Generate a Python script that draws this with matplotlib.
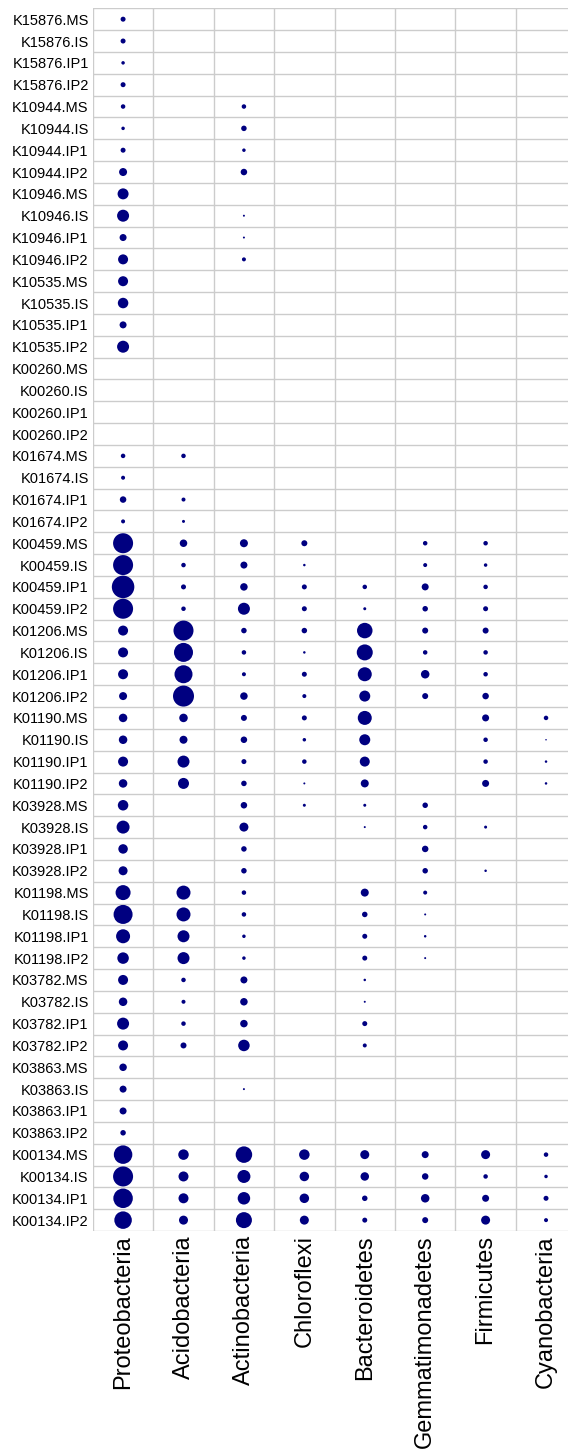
import numpy as np
import matplotlib
matplotlib.use('Agg')
import matplotlib.pyplot as plt

plt.rcParams['font.family'] = ['Liberation Sans', 'DejaVu Sans']

# KO groups and samples (rows, top to bottom)
kos = ['K15876', 'K10944', 'K10946', 'K10535', 'K00260', 'K01674', 'K00459',
       'K01206', 'K01190', 'K03928', 'K01198', 'K03782', 'K03863', 'K00134']
samples = ['MS', 'IS', 'IP1', 'IP2']

phyla = ['Proteobacteria', 'Acidobacteria', 'Actinobacteria', 'Chloroflexi',
         'Bacteroidetes', 'Gemmatimonadetes', 'Firmicutes', 'Cyanobacteria']

# dot sizes (relative, ~diameter), 0 = no dot
proteobacteria = [5, 5, 3.5, 5, 4.5, 3.5, 5, 8, 11, 12, 7, 10, 10, 10.5, 7, 12,
                  0, 0, 0, 0, 4.5, 4, 6.5, 4, 20, 20, 22.5, 20, 10, 10, 10, 8,
                  8.5, 8.5, 10, 8.5, 10.5, 13, 9.5, 9, 15, 19, 14, 11.5,
                  10, 8.5, 12, 10, 7.5, 7, 7, 5.5, 18.5, 20, 19.5, 17.5]
acidobacteria = [0, 0, 0, 0, 0, 0, 0, 0, 0, 0, 0, 0, 0, 0, 0, 0,
                 0, 0, 0, 0, 4.5, 0, 4, 3, 7.5, 4.5, 5, 4.5, 20, 19, 18, 21,
                 8.5, 8, 12, 11, 0, 0, 0, 0, 14, 14, 12, 12,
                 4.5, 4, 4.5, 6, 0, 0, 0, 0, 10.5, 10, 10, 9]
actinobacteria = [0, 0, 0, 0, 4.5, 5.5, 3.5, 6.5, 0, 2, 2, 4, 0, 0, 0, 0,
                  0, 0, 0, 0, 0, 0, 0, 0, 8, 7, 7.5, 12, 5.5, 4.5, 4, 7.5,
                  6, 6.5, 5, 5.5, 6.5, 9, 5.5, 5.5, 4.5, 4.5, 3.5, 3.5,
                  7, 7.5, 7.5, 11.5, 0, 2, 0, 0, 16.5, 13, 12.5, 16]
chloroflexi = [0, 0, 0, 0, 0, 0, 0, 0, 0, 0, 0, 0, 0, 0, 0, 0,
               0, 0, 0, 0, 0, 0, 0, 0, 6, 2.5, 5, 5, 5.5, 2.5, 5, 4,
               5, 3.5, 4.5, 2, 3, 0, 0, 0, 0, 0, 0, 0,
               0, 0, 0, 0, 0, 0, 0, 0, 10.5, 9.5, 9.5, 9]
bacteroidetes = [0, 0, 0, 0, 0, 0, 0, 0, 0, 0, 0, 0, 0, 0, 0, 0,
                 0, 0, 0, 0, 0, 0, 0, 0, 0, 0, 4.5, 3, 15.5, 16, 14, 11,
                 14, 11, 10, 8, 3, 2, 0, 0, 8, 5.5, 5, 5,
                 2.5, 2, 5, 4, 0, 0, 0, 0, 9, 8.5, 5.5, 5]
gemmatimonadetes = [0, 0, 0, 0, 0, 0, 0, 0, 0, 0, 0, 0, 0, 0, 0, 0,
                    0, 0, 0, 0, 0, 0, 0, 0, 4.5, 4, 7, 5.5, 6, 4.5, 8.5, 6,
                    0, 0, 0, 0, 5.5, 4.5, 6.5, 5.5, 4, 2, 2.5, 2,
                    0, 0, 0, 0, 0, 0, 0, 0, 7, 6.5, 8.5, 6]
firmicutes = [0, 0, 0, 0, 0, 0, 0, 0, 0, 0, 0, 0, 0, 0, 0, 0,
              0, 0, 0, 0, 0, 0, 0, 0, 4.5, 3.5, 4.5, 5, 6, 4.5, 4.5, 6.5,
              7, 4.5, 4.5, 7, 0, 3, 0, 2.5, 0, 0, 0, 0,
              0, 0, 0, 0, 0, 0, 0, 0, 9, 4.5, 7, 9]
cyanobacteria = [0, 0, 0, 0, 0, 0, 0, 0, 0, 0, 0, 0, 0, 0, 0, 0,
                 0, 0, 0, 0, 0, 0, 0, 0, 0, 0, 0, 0, 0, 0, 0, 0,
                 4.5, 1.5, 2.5, 2.5, 0, 0, 0, 0, 0, 0, 0, 0,
                 0, 0, 0, 0, 0, 0, 0, 0, 4.5, 3.5, 5, 4]

columns = [proteobacteria, acidobacteria, actinobacteria, chloroflexi,
           bacteroidetes, gemmatimonadetes, firmicutes, cyanobacteria]

row_labels = [f"{k}.{s}" for k in kos for s in samples]
n_rows = len(row_labels)
DPI = 100

fig = plt.figure(figsize=(5.68, 14.5), dpi=DPI)
# axes run a little past the right edge, like the reference
ax = fig.add_axes([0.1635, 0.151, 0.851, 0.8433])

for j, col in enumerate(columns):
    vals = np.array(col, dtype=float)
    rows = np.arange(n_rows)
    keep = vals > 0
    # value ~ diameter in pixels -> marker area in points^2
    sizes = (vals[keep] * 72 / DPI) ** 2
    ax.scatter(np.full(keep.sum(), j + 1), rows[keep], s=sizes,
               color='#000080', linewidths=0, zorder=3)

ax.set_xlim(0.5, len(phyla) + 0.5)
ax.set_ylim(n_rows - 0.5, -0.5)

ax.set_xticks(np.arange(1, len(phyla) + 1))
ax.set_xticklabels(phyla, rotation=90, fontsize=17)
ax.set_yticks(np.arange(n_rows))
ax.set_yticklabels(row_labels, fontsize=10.5)

# grid between cells
ax.set_xticks(np.arange(0.5, len(phyla) + 1), minor=True)
ax.set_yticks(np.arange(-0.5, n_rows), minor=True)
ax.grid(which='minor', color='#cccccc', linewidth=1.0)
ax.grid(which='major', visible=False)
ax.tick_params(which='both', length=0)
ax.tick_params(axis='y', pad=3)
ax.tick_params(axis='x', pad=3)
for sp in ax.spines.values():
    sp.set_visible(False)

fig.savefig('out.png', dpi=DPI)
